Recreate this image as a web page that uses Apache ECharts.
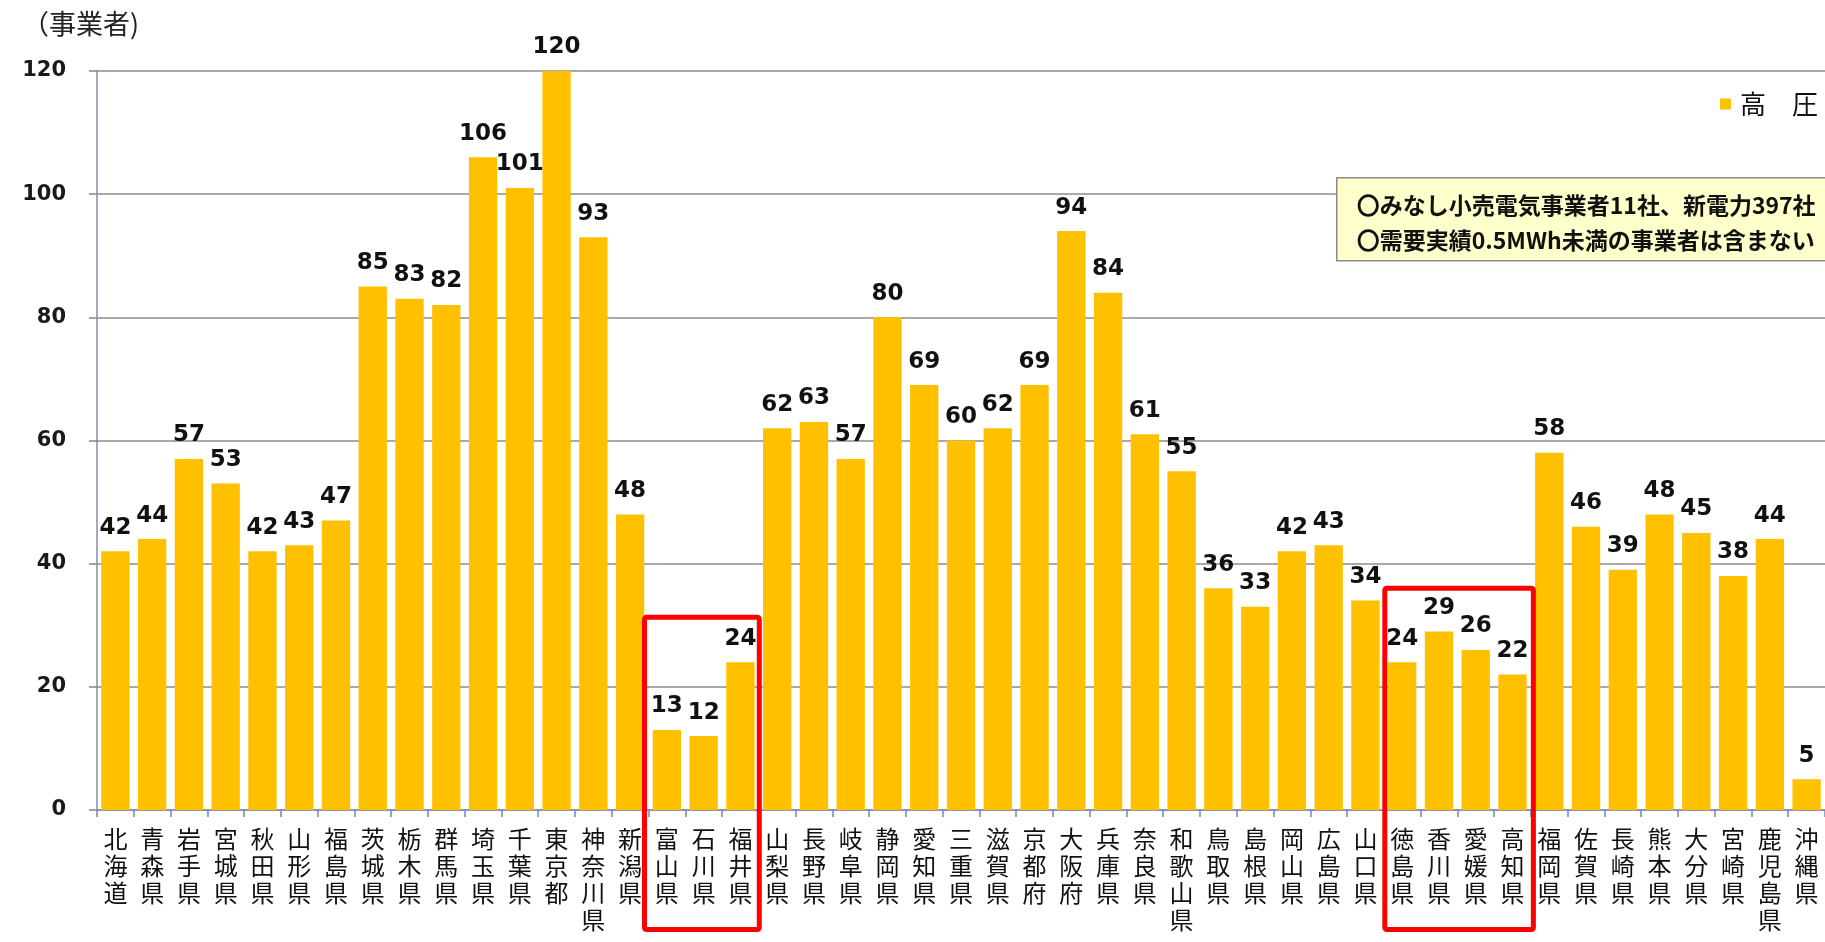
<!DOCTYPE html>
<html>
<head>
<meta charset="utf-8">
<script src="https://cdn.jsdelivr.net/npm/echarts@6/dist/echarts.min.js"></script>
<style>
  html, body { margin: 0; padding: 0; background: #fff; }
  #chart { width: 1825px; height: 942px; }
</style>
</head>
<body>
<div id="chart"></div>
<script>
// Prefectures (x-axis categories)
const prefectures = [
  '北海道', '青森県', '岩手県', '宮城県', '秋田県', '山形県', '福島県',
  '茨城県', '栃木県', '群馬県', '埼玉県', '千葉県', '東京都', '神奈川県',
  '新潟県', '富山県', '石川県', '福井県', '山梨県', '長野県', '岐阜県',
  '静岡県', '愛知県', '三重県', '滋賀県', '京都府', '大阪府', '兵庫県',
  '奈良県', '和歌山県', '鳥取県', '島根県', '岡山県', '広島県', '山口県',
  '徳島県', '香川県', '愛媛県', '高知県', '福岡県', '佐賀県', '長崎県',
  '熊本県', '大分県', '宮崎県', '鹿児島県', '沖縄県'
];

// Number of high-voltage retail suppliers per prefecture
const highVoltage = [
  42, 44, 57, 53, 42, 43, 47,
  85, 83, 82, 106, 101, 120, 93,
  48, 13, 12, 24, 62, 63, 57,
  80, 69, 60, 62, 69, 94, 84,
  61, 55, 36, 33, 42, 43, 34,
  24, 29, 26, 22, 58, 46, 39,
  48, 45, 38, 44, 5
];

// Y-axis ticks
const yTicks = [0, 20, 40, 60, 80, 100, 120];

// Highlighted prefecture groups: first index, last index, value at the frame top
const highlightGroups = [
  { from: 15, to: 17, topValue: 31.3 },
  { from: 35, to: 38, topValue: 36.0 }
];

const seriesName = '高　圧';
const unitLabel = '（事業者)';
const noteLines = [
  '〇みなし小売電気事業者11社、新電力397社',
  '〇需要実績0.5MWh未満の事業者は含まない'
];

// Drawing constants for the highlight frames (pixel padding around the categories)
const framePads = [[4, 0.5], [-1, 2.5]];
const frameBottom = 929.5;

const chart = echarts.init(document.getElementById('chart'));

const option = {
  animation: false,
  backgroundColor: '#ffffff',
  grid: { left: 97, right: -7, top: 71, bottom: 132, containLabel: false },
  legend: {
    right: 2, top: 86,
    itemWidth: 11, itemHeight: 11, itemGap: 4,
    icon: 'rect',
    textStyle: { fontFamily: 'Noto Sans CJK JP', fontSize: 26, color: '#111', padding: [0, 0, 0, 4] },
    data: [seriesName]
  },
  xAxis: {
    type: 'category',
    data: prefectures,
    axisLine: { lineStyle: { color: '#8a8fa8', width: 1.5 } },
    axisTick: { show: true, length: 7, lineStyle: { color: '#6f86c0', width: 1.5 } },
    axisLabel: {
      interval: 0,
      margin: 15,
      fontFamily: 'Noto Sans CJK JP',
      fontSize: 24,
      lineHeight: 27,
      color: '#111',
      verticalAlign: 'top',
      formatter: v => v.split('').join('\n')
    }
  },
  yAxis: {
    type: 'value',
    min: 0, max: yTicks[yTicks.length - 1], interval: yTicks[1] - yTicks[0],
    axisLine: { show: true, lineStyle: { color: '#8a8aa8', width: 1.5 } },
    axisTick: { show: true, length: 8, lineStyle: { color: '#888', width: 1.5 } },
    splitLine: { show: true, lineStyle: { color: '#8c8c8c', width: 1.5 } },
    axisLabel: {
      margin: 31,
      fontFamily: 'DejaVu Sans',
      fontWeight: 'bold',
      fontSize: 21,
      color: '#1a1a1a'
    }
  },
  series: [{
    name: seriesName,
    type: 'bar',
    data: highVoltage,
    barCategoryGap: '23%',
    itemStyle: { color: '#FFC000' },
    label: {
      show: true,
      position: 'top',
      distance: 12,
      fontFamily: 'DejaVu Sans',
      fontWeight: 'bold',
      fontSize: 23,
      color: '#111'
    }
  }]
};

chart.setOption(option);

// Overlays: unit caption, note box and red highlight frames
function buildGraphics() {
  const graphics = [
    {
      type: 'text', left: 22, top: 10,
      style: { text: unitLabel, fontFamily: 'Noto Sans CJK JP', fontSize: 27, fill: '#222' }
    },
    {
      type: 'group', left: 1336, top: 177,
      children: [
        {
          type: 'rect', shape: { x: 0, y: 0, width: 500, height: 83 },
          style: { fill: '#FFFFCC', stroke: '#8a8a8a', lineWidth: 1.5 }
        },
        {
          type: 'text', x: 20, y: 10,
          style: {
            text: noteLines.join('\n'),
            fontFamily: 'Noto Sans CJK JP', fontWeight: 'bold',
            fontSize: 23, lineHeight: 35, fill: '#111'
          }
        }
      ]
    }
  ];

  const p0 = chart.convertToPixel({ gridIndex: 0 }, [0, 0]);
  const p1 = chart.convertToPixel({ gridIndex: 0 }, [1, 0]);
  const step = p1[0] - p0[0];
  highlightGroups.forEach((g, i) => {
    const [padL, padR] = framePads[i];
    const left = chart.convertToPixel({ gridIndex: 0 }, [g.from, 0])[0] - step / 2 - padL;
    const right = chart.convertToPixel({ gridIndex: 0 }, [g.to, 0])[0] + step / 2 + padR;
    const top = chart.convertToPixel({ gridIndex: 0 }, [g.from, g.topValue])[1];
    graphics.push({
      type: 'rect',
      z: 100,
      shape: { x: left, y: top, width: right - left, height: frameBottom - top, r: 2 },
      style: { fill: 'none', stroke: '#FF0000', lineWidth: 5 }
    });
  });
  chart.setOption({ graphic: graphics });
}

buildGraphics();
</script>
</body>
</html>
